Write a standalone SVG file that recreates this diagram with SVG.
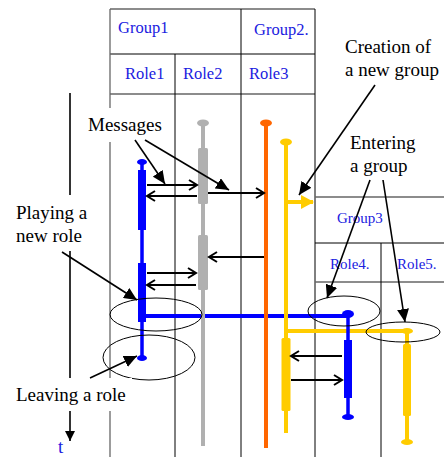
<svg xmlns="http://www.w3.org/2000/svg" width="444" height="457" viewBox="0 0 444 457">
<defs>
<style>
.hd{font-family:"Liberation Serif","Times New Roman",serif;font-size:16.5px;fill:#2020e0}
.hd3{font-family:"Liberation Serif","Times New Roman",serif;font-size:15px;fill:#2020e0}
.lb{font-family:"Liberation Serif","Times New Roman",serif;font-size:19px;fill:#000}
.tb{stroke:#666;stroke-width:1.3;fill:none}
.tk{stroke:#000;stroke-width:1;fill:none}
.msg{stroke:#000;stroke-width:2;fill:none;marker-end:url(#chev)}
.ann{stroke:#000;stroke-width:1.6;fill:none;marker-end:url(#tri)}
.ell{stroke:#000;stroke-width:1;fill:none}
</style>
<marker id="chev" markerWidth="12" markerHeight="12" refX="10" refY="6" orient="auto" markerUnits="userSpaceOnUse">
<path d="M2,1 L10,6 L2,11" fill="none" stroke="#000" stroke-width="2"/>
</marker>
<marker id="tri" markerWidth="14" markerHeight="12" refX="13" refY="6" orient="auto" markerUnits="userSpaceOnUse">
<path d="M0,0 L13,6 L0,12 z" fill="#000"/>
</marker>
<marker id="ytri" markerWidth="14" markerHeight="14" refX="12" refY="7" orient="auto" markerUnits="userSpaceOnUse">
<path d="M0,0 L13,7 L0,14 z" fill="#ffcc00"/>
</marker>
<marker id="axis" markerWidth="12" markerHeight="12" refX="10" refY="6" orient="auto" markerUnits="userSpaceOnUse">
<path d="M0,1 L10,6 L0,11 z" fill="#000"/>
</marker>
</defs>
<rect width="444" height="457" fill="#fff"/>

<g id="table">
<line class="tb" x1="110" y1="9" x2="315" y2="9"/>
<line class="tk" x1="110" y1="54" x2="315" y2="54"/>
<line class="tb" x1="110" y1="94" x2="315" y2="94"/>
<line class="tb" x1="110" y1="9" x2="110" y2="457"/>
<line class="tk" x1="175" y1="54" x2="175" y2="457"/>
<line class="tk" x1="241" y1="9" x2="241" y2="457"/>
<line class="tk" x1="315" y1="9" x2="315" y2="457"/>
<line class="tb" x1="315" y1="197" x2="444" y2="197"/>
<line class="tk" x1="315" y1="243" x2="444" y2="243"/>
<line class="tb" x1="315" y1="282" x2="444" y2="282"/>
<line class="tk" x1="381" y1="243" x2="381" y2="457"/>
<text class="hd" x="118" y="33">Group1</text>
<text class="hd" x="254" y="35">Group2.</text>
<text class="hd" x="125" y="79">Role1</text>
<text class="hd" x="183" y="79">Role2</text>
<text class="hd" x="249" y="79">Role3</text>
<text class="hd3" x="337" y="223">Group3</text>
<text class="hd3" x="330" y="269">Role4.</text>
<text class="hd3" x="397" y="269">Role5.</text>
</g>

<g id="time-axis">
<line x1="70" y1="93" x2="70" y2="441" stroke="#000" stroke-width="1.6" marker-end="url(#axis)"/>
<text x="58" y="453" font-family="Liberation Serif, serif" font-size="19" fill="#2020e0">t</text>
</g>

<g id="role1">
<line x1="142" y1="162" x2="142" y2="358" stroke="#0000ff" stroke-width="3.5"/>
<ellipse cx="142" cy="162" rx="5" ry="3" fill="#0000ff"/>
<ellipse cx="142" cy="358" rx="5" ry="3" fill="#0000ff"/>
<rect x="138" y="170" width="8" height="60" fill="#0000ff"/>
<rect x="138" y="263" width="8" height="59" fill="#0000ff"/>
<line x1="142" y1="316" x2="348" y2="316" stroke="#0000ff" stroke-width="4"/>
</g>

<g id="role2">
<line x1="203" y1="123" x2="203" y2="446" stroke="#b0b0b0" stroke-width="4"/>
<ellipse cx="203" cy="123" rx="6" ry="3.5" fill="#b0b0b0"/>
<rect x="198" y="148" width="10" height="56" rx="1.5" fill="#b0b0b0"/>
<rect x="198" y="235" width="10" height="55" rx="1.5" fill="#b0b0b0"/>
</g>

<g id="role3">
<line x1="266" y1="123" x2="266" y2="448" stroke="#ff6600" stroke-width="4"/>
<ellipse cx="266" cy="123" rx="6" ry="3.5" fill="#ff6600"/>
</g>

<g id="group2-second">
<line x1="286" y1="142" x2="286" y2="433" stroke="#ffcc00" stroke-width="4"/>
<ellipse cx="286" cy="142" rx="6" ry="3.5" fill="#ffcc00"/>
<line x1="286" y1="202" x2="313" y2="202" stroke="#ffcc00" stroke-width="4" marker-end="url(#ytri)"/>
<rect x="281.5" y="338" width="9" height="73" rx="1.5" fill="#ffcc00"/>
<line x1="286" y1="331" x2="407" y2="331" stroke="#ffcc00" stroke-width="4"/>
</g>

<g id="role4">
<line x1="348" y1="314" x2="348" y2="417" stroke="#0000ff" stroke-width="3.5"/>
<ellipse cx="348" cy="314" rx="6" ry="4" fill="#0000ff"/>
<ellipse cx="348" cy="417" rx="6" ry="3" fill="#0000ff"/>
<rect x="344" y="340" width="8" height="58" fill="#0000ff"/>
</g>

<g id="role5">
<line x1="407" y1="331" x2="407" y2="442" stroke="#ffcc00" stroke-width="4"/>
<ellipse cx="407" cy="331" rx="6" ry="3" fill="#ffcc00"/>
<ellipse cx="407" cy="442" rx="6" ry="3" fill="#ffcc00"/>
<rect x="403" y="344" width="8" height="72" rx="1.5" fill="#ffcc00"/>
</g>

<g id="connectors">
<line class="msg" x1="147" y1="185" x2="197" y2="185"/>
<line class="msg" x1="197" y1="196" x2="147" y2="196"/>
<line class="msg" x1="208" y1="193" x2="264" y2="193"/>
<line class="msg" x1="264" y1="257" x2="209" y2="257"/>
<line class="msg" x1="147" y1="273" x2="196" y2="273"/>
<line class="msg" x1="196" y1="285" x2="147" y2="285"/>
<line class="msg" x1="342" y1="356" x2="291" y2="356"/>
<line class="msg" x1="291" y1="380" x2="342" y2="380"/>
</g>

<g id="ellipses">
<ellipse class="ell" cx="156" cy="314.5" rx="46" ry="16.5"/>
<ellipse class="ell" cx="149" cy="357.5" rx="46" ry="22.5"/>
<ellipse class="ell" cx="344" cy="311" rx="36" ry="15"/>
<ellipse class="ell" cx="403" cy="332" rx="37" ry="10"/>
</g>

<g id="labels">
<rect x="84" y="108" width="82" height="34" fill="#fff"/>
<rect x="10" y="195" width="80" height="56" fill="#fff"/>
<rect x="10" y="378" width="122" height="33" fill="#fff"/>
<text class="lb" x="88" y="131">Messages</text>
<text class="lb" x="345" y="53">Creation of</text>
<text class="lb" x="345" y="76">a new group</text>
<text class="lb" x="350" y="149">Entering</text>
<text class="lb" x="350" y="172">a group</text>
<text class="lb" x="16" y="219">Playing a</text>
<text class="lb" x="16" y="242">new role</text>
<text class="lb" x="16" y="401">Leaving a role</text>
</g>

<g id="annotations">
<line class="ann" x1="135" y1="140" x2="165" y2="184"/>
<line class="ann" x1="145" y1="140" x2="229" y2="190"/>
<line class="ann" x1="375" y1="85" x2="299" y2="195"/>
<line class="ann" x1="370" y1="180" x2="327" y2="298"/>
<line class="ann" x1="383" y1="180" x2="405" y2="322"/>
<line class="ann" x1="62" y1="252" x2="137" y2="300"/>
<line class="ann" x1="90" y1="378" x2="137" y2="356"/>
</g>
</svg>
